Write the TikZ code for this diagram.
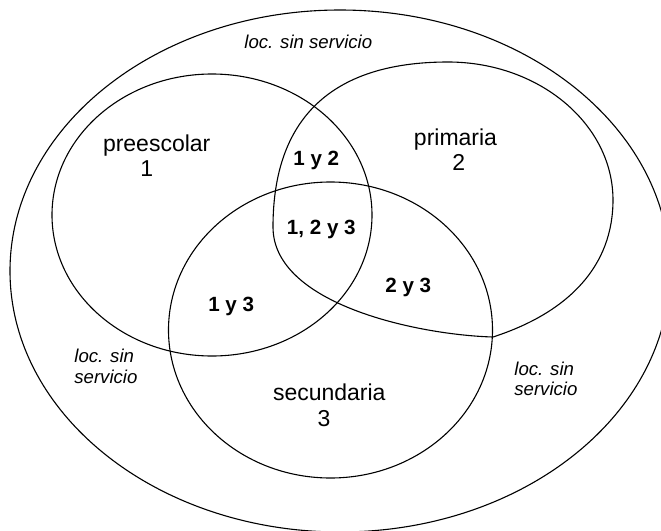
\documentclass[tikz,border=0pt]{standalone}
\usepackage{fontspec}
\setmainfont{Liberation Sans}
\begin{document}
\begin{tikzpicture}[x=0.5pt,y=-0.5pt,
  setline/.style={draw=black, line width=0.55pt},
  lbl/.style={font=\fontsize{11.5}{12}\selectfont, inner sep=0pt, anchor=base},
  inter/.style={font=\bfseries\fontsize{10.3}{12}\selectfont, inner sep=0pt, anchor=base},
  outc/.style={font=\itshape\fontsize{9.3}{10}\selectfont, inner sep=0pt}]
\useasboundingbox (0,0) rectangle (661,531);
\clip (0,0) rectangle (661,531);
% universe
\draw[setline] (340,271) ellipse [x radius=330, y radius=261];
% set 1: preescolar
\draw[setline] (212,215) ellipse [x radius=160, y radius=141];
% set 3: secundaria
\draw[setline] (330.5,330) ellipse [x radius=162, y radius=148];
% set 2: primaria (freeform oval)
\draw[setline] (448,62) .. controls (539,62) and (613,124) .. (613,200)
  .. controls (613,265) and (570,312) .. (493,337)
  .. controls (420,335) and (273,305) .. (273,227)
  .. controls (273,120) and (330,62) .. cycle;
% labels
\node[lbl] (pre) at (156.7,151.7) {preescolar};
\node[lbl] (n1) at (146.7,176.7) {1};
\node[lbl] (prim) at (455.5,145) {primaria};
\node[lbl] (n2) at (458.7,170) {2};
\node[lbl] (sec) at (329.3,400) {secundaria};
\node[lbl] (n3) at (324,426.5) {3};
\node[inter] (i12) at (316.3,165) {1 y 2};
\node[inter] (i123) at (321.3,234) {1, 2 y 3};
\node[inter] (i23) at (408.3,292.3) {2 y 3};
\node[inter] (i13) at (231.2,311.7) {1 y 3};
\node[outc, anchor=base] (loctop) at (308.3,48.3) {loc. sin servicio};
\node[outc, anchor=base west] (locl1) at (74,362.7) {loc. sin};
\node[outc, anchor=base west] (locl2) at (74,383.3) {servicio};
\node[outc, anchor=base west] (locr1) at (514,375) {loc. sin};
\node[outc, anchor=base west] (locr2) at (514,395.7) {servicio};
\end{tikzpicture}
\end{document}
